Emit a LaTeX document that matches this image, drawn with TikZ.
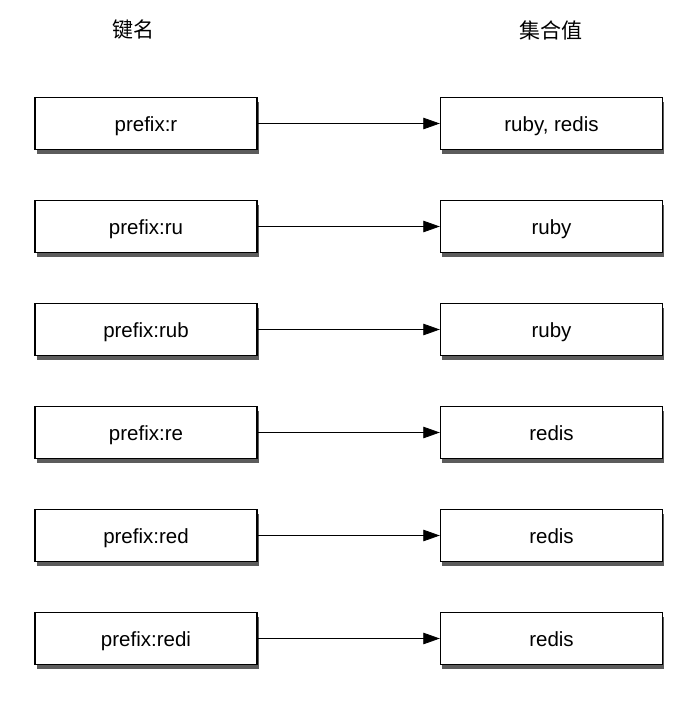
\documentclass[tikz,border=0pt]{standalone}
\usepackage{fontspec}
\setmainfont{Liberation Sans}
\newfontfamily\cjk{Noto Sans CJK SC}
\usetikzlibrary{shadows}
\usetikzlibrary{arrows.meta}

\tikzset{
  keybox/.style={draw=black, line width=1.4pt, fill=white,
    minimum width=222pt, minimum height=52pt, inner sep=0pt,
    text height=17pt, text depth=1pt,
    font=\fontsize{20.5}{24}\selectfont,
    drop shadow={shadow xshift=1.5pt, shadow yshift=-4pt, fill=black!75, opacity=0.85}},
  setbox/.style={keybox},
  head/.style={font=\cjk\fontsize{21}{24}\selectfont},
  link/.style={-{Triangle[length=16.5pt,width=11.5pt]}, line width=0.8pt},
}

\begin{document}
\begin{tikzpicture}[x=1pt,y=-1pt]
    \useasboundingbox (0,0) rectangle (697,705);
    \node[head] (keyhead) at (133.5,30) {键名};
    \node[head] (sethead) at (550.5,30) {集合值};
    \foreach \i/\k/\v in {0/r/{ruby, redis},1/ru/ruby,2/rub/ruby,3/re/redis,4/red/redis,5/redi/redis}{
      \node[keybox] (key\i) at (146,123.5+103*\i) {prefix:\k};
      \node[setbox] (set\i) at (551.5,123.5+103*\i) {\v};
      \draw[link] (key\i) -- (set\i);
    }
\end{tikzpicture}
\end{document}
